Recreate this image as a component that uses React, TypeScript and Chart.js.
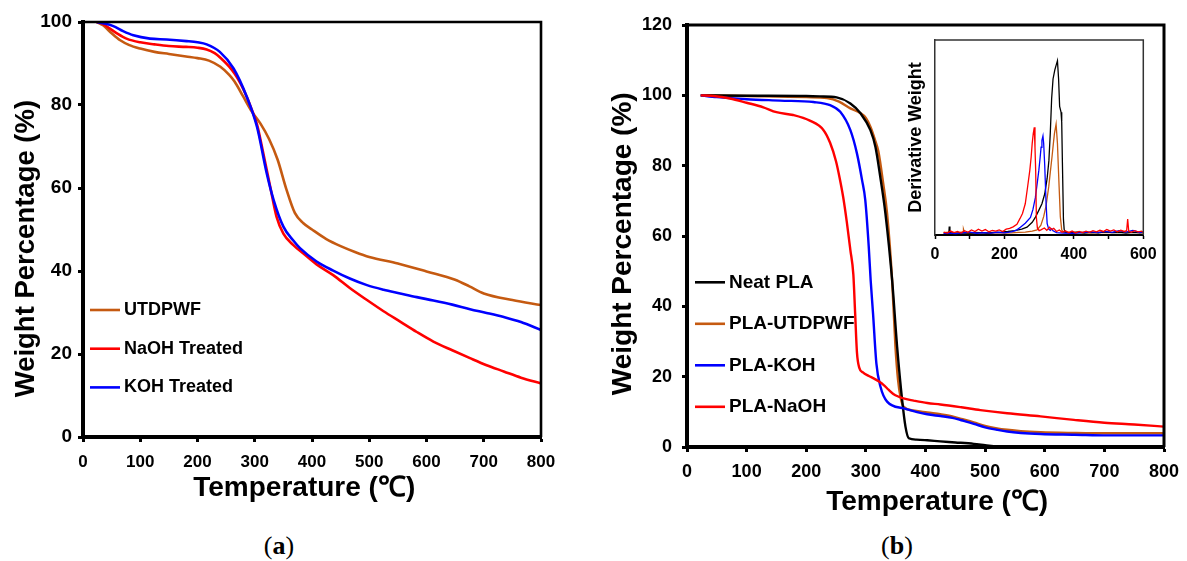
import React, { useEffect, useRef } from 'react';
import { Chart, registerables } from 'chart.js';

Chart.register(...registerables);

const FAMILY = "'Liberation Sans', Arial, Helvetica, sans-serif";
const BROWN = '#C55A11';
const RED = '#FF0000';
const BLUE = '#0000FF';
const BLACK = '#000000';

// ---------- Panel (a): TGA of fibres ----------
const tUTD = [24, 35, 50, 65, 80, 100, 125, 150, 180, 200, 220, 240, 255, 265, 280, 295, 310, 325, 340, 355, 370, 385, 400, 425, 450, 475, 500, 550, 600, 650, 675, 700, 750, 800];
const vUTD = [100, 99.2, 97.3, 95.6, 94.5, 93.6, 92.8, 92.3, 91.7, 91.3, 90.7, 89.2, 87.3, 85.6, 82.0, 78.4, 75.5, 71.8, 66.8, 59.8, 54.0, 51.5, 50.0, 47.7, 46.0, 44.6, 43.4, 41.8, 39.9, 37.9, 36.3, 34.6, 33.0, 31.8];

const tNaOH = [24, 35, 47, 60, 76, 100, 125, 150, 180, 200, 216, 230, 240, 255, 265, 275, 286, 295, 304, 315, 327, 338, 350, 367, 385, 408, 437, 466, 496, 525, 554, 583, 612, 645, 676, 705, 735, 765, 800];
const vNaOH = [100, 99.5, 98.4, 97.2, 96.0, 95.1, 94.6, 94.2, 94.0, 93.8, 93.4, 92.5, 91.4, 89.3, 87.5, 85.2, 82.0, 78.8, 75.3, 68.3, 60.3, 53.1, 49.0, 46.3, 44.2, 41.6, 39.0, 35.9, 33.0, 30.3, 27.8, 25.3, 23.0, 20.9, 19.0, 17.3, 15.8, 14.3, 12.9];

const tKOH = [24, 35, 53, 70, 88, 117, 146, 181, 200, 216, 239, 263, 286, 304, 321, 333, 350, 367, 379, 408, 437, 466, 496, 525, 554, 583, 612, 645, 676, 705, 735, 765, 800];
const vKOH = [100, 99.7, 99.0, 97.8, 96.8, 96.0, 95.8, 95.4, 95.1, 94.6, 92.8, 88.8, 82.0, 74.7, 63.5, 57.1, 50.7, 47.4, 45.5, 42.3, 40.1, 38.2, 36.6, 35.5, 34.6, 33.7, 32.9, 31.9, 30.8, 29.9, 28.9, 27.7, 25.8];

const labelsA = ['UTDPWF', 'NaOH Treated', 'KOH Treated'];

// ---------- Panel (b): TGA of composites ----------
const tNeat = [23, 100, 200, 223, 251, 274, 291, 307.6, 316, 324, 332.8, 344, 352.4, 360.8, 366.4, 372, 385, 403, 425, 450, 481, 500, 520, 560, 800];
const vNeat = [100, 99.9, 99.8, 99.7, 99.4, 97.7, 94.9, 90.1, 85.4, 77.0, 66.4, 47.5, 28.5, 13.4, 5.8, 2.5, 2.1, 1.9, 1.6, 1.3, 0.9, 0.5, 0.1, 0, 0];

const tPlaUtd = [23, 100, 200, 235, 255, 274, 291, 300, 307.6, 315, 321, 329, 335.6, 344, 349.6, 354, 358, 363.5, 380, 403, 425, 445, 460, 481, 500, 520, 537, 560, 593, 650, 705, 800];
const vPlaUtd = [100, 99.8, 99.5, 99.2, 98.2, 96.3, 94.9, 93.6, 91.1, 87.5, 84.0, 75.0, 66.4, 47.5, 28.5, 19.0, 14.3, 11.4, 10.4, 9.8, 9.3, 8.7, 8.0, 7.0, 6.0, 5.3, 4.9, 4.5, 4.2, 4.0, 3.9, 3.9];

const tPlaKoh = [23, 50, 100, 156, 212, 240, 257, 274, 285, 293.6, 299, 304.8, 308, 312, 317.6, 324.4, 335.6, 363.5, 403, 425, 445, 460, 481, 500, 520, 537, 560, 593, 650, 705, 800];
const vPlaKoh = [100, 99.5, 98.9, 98.5, 98.1, 97.2, 95.3, 90.1, 83.5, 75.9, 70.2, 57.0, 47.5, 38.0, 23.8, 17.2, 12.9, 11.0, 9.3, 8.8, 8.3, 7.6, 6.6, 5.6, 4.9, 4.4, 4.0, 3.7, 3.5, 3.3, 3.3];

const tPlaNaoh = [23, 44, 72, 100, 128, 150, 178, 206, 229, 240, 250, 256, 262, 268, 274, 279, 282, 285, 289, 295, 305, 313, 322, 330, 338, 346, 355, 363, 380, 403, 425, 460, 492, 537, 593, 649, 700, 750, 800];
const vPlaNaoh = [100, 99.8, 99.1, 97.9, 96.6, 95.2, 94.4, 92.8, 90.1, 86.5, 81.2, 76.5, 71.0, 64.0, 56.0, 49.0, 38.0, 27.0, 22.5, 21.2, 20.2, 19.5, 18.6, 17.6, 16.3, 15.1, 14.3, 13.8, 13.2, 12.5, 12.1, 11.3, 10.5, 9.6, 8.7, 7.7, 6.9, 6.4, 5.8];

const labelsB = ['Neat PLA', 'PLA-UTDPWF', 'PLA-KOH', 'PLA-NaOH'];

// ---------- Inset: derivative weight (arbitrary units) ----------
const dtNeat = [25, 35, 40, 41, 43, 55, 70, 90, 110, 130, 150, 170, 190, 210, 230, 250, 265, 280, 289, 300, 308, 316, 323, 328, 332, 336, 340, 345, 348, 352.7, 356, 359, 363, 365, 367, 370, 372, 375, 390, 410, 430, 450, 470, 490, 510, 530, 550, 570, 590, 600];
const dvNeat = [1.0, 0.8, 1.0, 4.3, 0.9, 1.0, 0.8, 1.1, 1.0, 1.2, 1.0, 1.3, 1.5, 1.8, 2.2, 3.0, 4.0, 6.5, 9.0, 13, 16, 21, 29, 38, 52, 70, 80, 84.6, 86.5, 89.4, 80, 66, 63, 58, 37, 8, 3, 1.5, 1.2, 1.4, 1.0, 1.3, 1.1, 1.6, 1.2, 1.4, 1.0, 1.3, 1.1, 1.2];

const dtUtd = [25, 40, 60, 75, 81, 82, 85, 100, 120, 140, 160, 180, 200, 220, 240, 260, 280, 294, 305, 313, 320, 327.6, 332, 337, 341, 344, 348.8, 352.7, 355, 357.5, 361, 365, 370, 390, 420, 450, 480, 510, 540, 570, 600];
const dvUtd = [1.2, 1.5, 1.0, 1.4, 1.3, 3.0, 1.2, 1.0, 1.3, 1.1, 0.9, 1.2, 1.0, 1.1, 1.3, 1.5, 2.0, 2.6, 5, 9.4, 15, 24.8, 32, 40, 47, 52, 56.9, 47, 36, 24.8, 9.4, 2.6, 1.4, 1.2, 1.5, 1.1, 1.4, 1.2, 1.6, 1.3, 1.2];

const dtKoh = [25, 40, 60, 80, 100, 120, 140, 160, 180, 200, 220, 235, 246, 260, 275, 282, 289, 294, 299, 303, 305.6, 308, 311, 313, 316, 320, 323, 327.5, 332, 336, 340, 350, 370, 400, 430, 450, 470, 490, 510, 530, 550, 570, 590, 600];
const dvKoh = [0.8, 1.0, 0.7, 1.1, 1.5, 0.9, 1.2, 1.0, 1.4, 1.1, 1.6, 2.5, 4, 6, 9, 13, 19, 26, 33, 40, 45, 48.5, 50.8, 47, 36, 16, 6, 3, 2.4, 3.2, 2.2, 1.2, 1.0, 0.9, 1.3, 1.6, 1.2, 1.9, 1.4, 2.2, 1.5, 2.4, 1.3, 1.6];

const dtNaoh = [25, 35, 45, 55, 65, 75, 85, 95, 105, 115, 125, 135, 145, 155, 165, 175, 185, 195, 205, 215, 225, 236, 245, 252, 260, 267, 273, 277, 280, 283, 286, 288, 290, 292, 295, 300, 305, 315, 322, 330, 336, 342, 350, 358, 366, 375, 385, 395, 405, 415, 425, 435, 445, 455, 465, 475, 485, 495, 505, 515, 525, 535, 545, 552, 555, 558, 565, 575, 585, 595, 600];
const dvNaoh = [1.5, 1.0, 2.0, 1.2, 1.8, 1.0, 2.2, 1.4, 2.6, 1.8, 3.0, 2.0, 2.8, 1.6, 2.4, 2.0, 2.6, 1.8, 3.0, 3.4, 4.2, 5.5, 8.5, 11, 16, 25, 33, 40, 47, 52, 55.2, 45, 33, 9, 3.5, 2.2, 2.6, 3.6, 2.4, 4.0, 2.8, 3.4, 1.8, 2.6, 1.4, 2.2, 1.2, 2.0, 1.0, 1.8, 1.2, 2.0, 1.4, 2.2, 1.6, 2.4, 1.8, 2.8, 2.0, 2.6, 1.6, 2.4, 1.8, 2.2, 8.2, 2.0, 1.4, 2.2, 1.6, 2.0, 1.2];

// ---------- helpers ----------
const pts = (xs: number[], ys: number[]) => xs.map((x, i) => ({ x, y: ys[i] }));

const framePlugin = {
  id: 'frame',
  afterDatasetsDraw(chart: any, _args: any, opts: any) {
    const { ctx, chartArea } = chart;
    const { left, top, right, bottom } = chartArea;
    ctx.save();
    ctx.strokeStyle = opts.color || '#000';
    ctx.lineWidth = opts.width || 2;
    ctx.beginPath();
    ctx.moveTo(left, top);
    ctx.lineTo(right, top);
    ctx.lineTo(right, bottom);
    ctx.stroke();
    ctx.restore();
  },
};

const lineLegendPlugin = {
  id: 'lineLegend',
  afterDraw(chart: any, _args: any, opts: any) {
    if (!opts || opts.x === undefined) return;
    const ctx = chart.ctx;
    ctx.save();
    ctx.font = opts.font;
    ctx.textBaseline = 'middle';
    ctx.textAlign = 'left';
    chart.data.datasets.forEach((ds: any, i: number) => {
      const y = opts.y + i * opts.spacing;
      ctx.strokeStyle = ds.borderColor;
      ctx.lineWidth = opts.lineWidth;
      ctx.beginPath();
      ctx.moveTo(opts.x, y);
      ctx.lineTo(opts.x + opts.lineLength, y);
      ctx.stroke();
      ctx.fillStyle = '#000';
      ctx.fillText(ds.label, opts.x + opts.lineLength + opts.gap, y);
    });
    ctx.restore();
  },
};

const lineDs = (label: string, xs: number[], ys: number[], color: string, width: number, order: number, smooth = true) => ({
  label,
  data: pts(xs, ys),
  borderColor: color,
  backgroundColor: color,
  borderWidth: width,
  pointRadius: 0,
  fill: false,
  order,
  cubicInterpolationMode: smooth ? 'monotone' : 'default',
  tension: 0,
});

const bold = (size: number) => ({ family: FAMILY, size, weight: 'bold' as const, lineHeight: 1 });

// fix the scale's box size and drop label-overflow padding so the plot area is exact
const fitX = (h: number) => (s: any) => { s.height = h; s.paddingLeft = 0; s.paddingRight = 0; };
const fitY = (w: number) => (s: any) => { s.width = w; s.paddingTop = 0; s.paddingBottom = 0; };

function configA(): any {
  return {
    type: 'line',
    data: {
      datasets: [
        lineDs(labelsA[0], tUTD, vUTD, BROWN, 2.6, 3),
        lineDs(labelsA[1], tNaOH, vNaOH, RED, 2.6, 2),
        lineDs(labelsA[2], tKOH, vKOH, BLUE, 2.6, 1),
      ],
    },
    plugins: [framePlugin, lineLegendPlugin],
    options: {
      responsive: false,
      animation: false,
      layout: { padding: { left: 0, top: 22, right: 19, bottom: 13 } },
      plugins: {
        legend: { display: false },
        tooltip: { enabled: false },
        frame: { color: '#000', width: 2.6 },
        lineLegend: { x: 90, y: 310, spacing: 38.7, lineLength: 30, gap: 4, lineWidth: 2.6, font: `bold 18px ${FAMILY}` },
      },
      scales: {
        x: {
          type: 'linear', min: 0, max: 800,
          ticks: { stepSize: 100, color: '#000', font: bold(17), padding: 11.5, maxRotation: 0, autoSkip: false },
          grid: { drawOnChartArea: false, drawTicks: true, tickLength: 5, tickWidth: 3, color: '#000' },
          border: { width: 4, color: '#000' },
          title: { display: true, text: 'Temperature (℃)  ', color: '#000', font: bold(28), padding: { top: 0, bottom: 0 } },
          afterFit: fitX(65),
        },
        y: {
          type: 'linear', min: 0, max: 100,
          ticks: { stepSize: 20, color: '#000', font: bold(19), padding: 6 },
          grid: { drawOnChartArea: false, drawTicks: true, tickLength: 5, tickWidth: 3, color: '#000' },
          border: { width: 4, color: '#000' },
          title: { display: true, text: 'Weight Percentage (%)     ', color: '#000', font: bold(27.5), padding: { top: 13, bottom: 0 } },
          afterFit: fitY(83),
        },
      },
    },
  };
}

function configB(): any {
  return {
    type: 'line',
    data: {
      datasets: [
        lineDs(labelsB[0], tNeat, vNeat, BLACK, 2.4, 3),
        lineDs(labelsB[1], tPlaUtd, vPlaUtd, BROWN, 2.4, 4),
        lineDs(labelsB[2], tPlaKoh, vPlaKoh, BLUE, 2.4, 2),
        lineDs(labelsB[3], tPlaNaoh, vPlaNaoh, RED, 2.4, 1),
      ],
    },
    plugins: [framePlugin, lineLegendPlugin],
    options: {
      responsive: false,
      animation: false,
      layout: { padding: { left: 0, top: 25, right: 23, bottom: 8 } },
      plugins: {
        legend: { display: false },
        tooltip: { enabled: false },
        frame: { color: '#000', width: 3 },
        lineLegend: { x: 95, y: 282.3, spacing: 41.5, lineLength: 30, gap: 4, lineWidth: 2.6, font: `bold 19px ${FAMILY}` },
      },
      scales: {
        x: {
          type: 'linear', min: 0, max: 800,
          ticks: { stepSize: 100, color: '#000', font: bold(18), padding: 11.5, maxRotation: 0, autoSkip: false },
          grid: { drawOnChartArea: false, drawTicks: true, tickLength: 5, tickWidth: 3, color: '#000' },
          border: { width: 4, color: '#000' },
          title: { display: true, text: '   Temperature (℃)', color: '#000', font: bold(28), padding: { top: 0, bottom: 6 } },
          afterFit: fitX(75),
        },
        y: {
          type: 'linear', min: 0, max: 120,
          ticks: { stepSize: 20, color: '#000', font: bold(18), padding: 10 },
          grid: { drawOnChartArea: false, drawTicks: true, tickLength: 5, tickWidth: 3, color: '#000' },
          border: { width: 4, color: '#000' },
          title: { display: true, text: 'Weight Percentage (%)  ', color: '#000', font: bold(28), padding: { top: 9.5, bottom: 0 } },
          afterFit: fitY(87),
        },
      },
    },
  };
}

function configC(): any {
  return {
    type: 'line',
    data: {
      datasets: [
        lineDs('Neat PLA', dtNeat, dvNeat, BLACK, 1.3, 3, false),
        lineDs('PLA-UTDPWF', dtUtd, dvUtd, BROWN, 1.3, 4, false),
        lineDs('PLA-KOH', dtKoh, dvKoh, BLUE, 1.3, 2, false),
        lineDs('PLA-NaOH', dtNaoh, dvNaoh, RED, 1.3, 1, false),
      ],
    },
    plugins: [framePlugin],
    options: {
      responsive: false,
      animation: false,
      layout: { padding: { left: 0, top: 10, right: 16.7, bottom: 5 } },
      plugins: {
        legend: { display: false },
        tooltip: { enabled: false },
        frame: { color: '#333', width: 1.5 },
      },
      scales: {
        x: {
          type: 'linear', min: 0, max: 600,
          ticks: {
            stepSize: 100, color: '#000', font: bold(16), padding: 7.5, maxRotation: 0, autoSkip: false,
            callback: (v: any) => (Number(v) % 200 === 0 ? String(v) : ''),
          },
          grid: { drawOnChartArea: false, drawTicks: true, tickLength: 4, tickWidth: 1.5, color: '#000' },
          border: { width: 2, color: '#000' },
          afterFit: fitX(35),
        },
        y: {
          type: 'linear', min: 0, max: 100,
          ticks: { display: false },
          grid: { drawOnChartArea: false, drawTicks: false },
          border: { width: 1.5, color: '#333' },
          title: { display: true, text: 'Derivative Weight', color: '#000', font: bold(18), padding: { top: 17, bottom: 0 } },
          afterFit: fitY(45),
        },
      },
    },
  };
}

export default function App() {
  const refA = useRef<HTMLCanvasElement>(null);
  const refB = useRef<HTMLCanvasElement>(null);
  const refC = useRef<HTMLCanvasElement>(null);

  useEffect(() => {
    const charts: Chart[] = [];
    if (refA.current) charts.push(new Chart(refA.current, configA()));
    if (refB.current) charts.push(new Chart(refB.current, configB()));
    if (refC.current) charts.push(new Chart(refC.current, configC()));
    return () => charts.forEach((c) => c.destroy());
  }, []);

  const caption: React.CSSProperties = {
    position: 'absolute',
    top: 531,
    fontFamily: "'Liberation Serif', 'Times New Roman', serif",
    fontSize: 26,
    lineHeight: '30px',
    color: '#000',
    width: 60,
    textAlign: 'center',
  };

  return (
    <div style={{ position: 'absolute', left: 0, top: 0, width: 1187, height: 561, background: '#fff', overflow: 'hidden' }}>
      <canvas ref={refA} width={560} height={515} style={{ position: 'absolute', left: 0, top: 0 }} />
      <canvas ref={refB} width={587} height={530} style={{ position: 'absolute', left: 600, top: 0 }} />
      <canvas ref={refC} width={270} height={245} style={{ position: 'absolute', left: 890, top: 30 }} />
      <div style={{ ...caption, left: 249 }}>(<b>a</b>)</div>
      <div style={{ ...caption, left: 867 }}>(<b>b</b>)</div>
    </div>
  );
}
